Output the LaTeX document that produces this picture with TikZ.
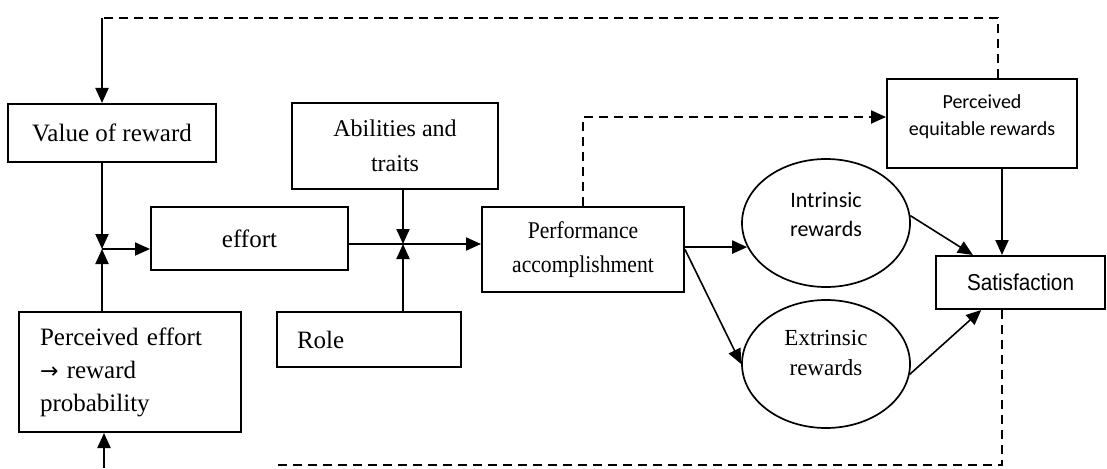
\documentclass[tikz,border=0pt]{standalone}
\usepackage{fontspec}
\setmainfont{Liberation Serif}
\newfontfamily\narrowserif[FakeStretch=0.9]{Liberation Serif}
\newfontfamily\calib{Carlito}
\newfontfamily\narrowsans[FakeStretch=0.9]{Liberation Sans}
\newfontfamily\arrowglyph{DejaVu Sans}
\usetikzlibrary{arrows.meta,shapes.geometric}
\begin{document}
\begin{tikzpicture}[x=1pt,y=-1pt,
  line width=2pt,
  box/.style={draw,rectangle,inner sep=0pt,line width=2pt},
  ell/.style={draw,ellipse,inner sep=0pt,minimum width=168pt,minimum height=128pt,line width=1.7pt},
  txt/.style={font=\fontsize{25}{33}\selectfont},
  arr/.style={-{Triangle[length=15pt,width=13pt]}},
  thin arr/.style={line width=1.6pt,-{Triangle[length=15pt,width=13pt]}},
  dsh/.style={dash pattern=on 9pt off 6pt,line width=2.2pt}]
\useasboundingbox (0,0) rectangle (1107,468);

% boxes
\node[box,txt,minimum width=208pt,minimum height=58pt] (val) at (112,133) {Value of reward};
\node[box,txt,minimum width=206pt,minimum height=85pt,align=center,
      font=\fontsize{24}{35}\selectfont] (abil) at (395,146) {Abilities and\\traits};
\node[box,txt,minimum width=197pt,minimum height=63pt] (effort) at (249.5,238.5) {effort};
\node[box,txt,text width=144pt,align=left,inner xsep=20pt,minimum height=55pt] (role) at (369,339.5) {Role};
\node[box,txt,text width=180pt,align=left,inner xsep=21pt,minimum height=120pt] (pe) at (130,372)
  {Perceived effort\\{\arrowglyph\fontsize{22}{33}\selectfont →} reward\\probability};
\node[box,minimum width=202pt,minimum height=85pt,align=center,
      font=\narrowserif\fontsize{24}{34}\selectfont] (perf) at (583,249.5) {Performance\\accomplishment};
\node[box,minimum width=190pt,minimum height=89pt] (perq) at (982,123.5) {};
\node[align=center,font=\calib\fontsize{20}{27}\selectfont] (perqtext) at (982,116.5) {Perceived\\equitable rewards};
\node[box,minimum width=169pt,minimum height=53pt,font=\narrowsans\fontsize{23}{28}\selectfont] (sat) at (1020.5,282.5) {Satisfaction};

% reward ellipses
\node[ell] (intr) at (826,223) {};
\node[align=center,font=\calib\fontsize{22}{29}\selectfont] (intrtext) at (826,214.5) {Intrinsic\\rewards};
\node[ell] (extr) at (826,364) {};
\node[align=center,font=\fontsize{23}{30}\selectfont] (extrtext) at (826,353) {Extrinsic\\rewards};

% junctions and loop corners
\coordinate (j1) at (102,249);
\coordinate (j2) at (403,244);
\coordinate (topleft) at (102,18);
\coordinate (topright) at (998,18);
\coordinate (pcorner) at (583,117);
\coordinate (botright) at (1002,465);
\coordinate (botleft) at (277,465);
\coordinate (pestart) at (104,468);

% inputs to effort
\draw[arr] (j1 |- val.south) -- (j1);
\draw[arr] (j1 |- pe.north) -- (j1);
\draw[arr] (j1) -- (j1 -| effort.west);

% effort, abilities and role to performance
\draw[arr] (j2 |- abil.south) -- (j2);
\draw[arr] (j2 |- role.north) -- (j2);
\draw (effort.east |- j2) -- (j2);
\draw[arr] (j2) -- (j2 -| perf.west);

% performance to rewards
\draw[arr] (perf.east |- intr.197) -- (intr.197);
\draw[thin arr] (perf.east) -- (extr.west);
\draw[dsh,arr] (perf.north) -- (pcorner) -- (pcorner -| perq.west);

% rewards to satisfaction
\draw[thin arr] (intr.5) -- (sat.150);
\draw[thin arr] (extr.-7) -- (sat.215);
\draw[arr] ([xshift=20pt]perq.south) -- ([xshift=20pt]perq.south |- sat.north);

% feedback loops
\draw[dsh] (perq.north -| topright) -- (topright) -- (topleft);
\draw[arr] (topleft) -- (topleft |- val.north);
\draw[dsh] (sat.south -| botright) -- (botright) -- (botleft);
\draw[arr] (pestart) -- (pestart |- pe.south);
\end{tikzpicture}
\end{document}
